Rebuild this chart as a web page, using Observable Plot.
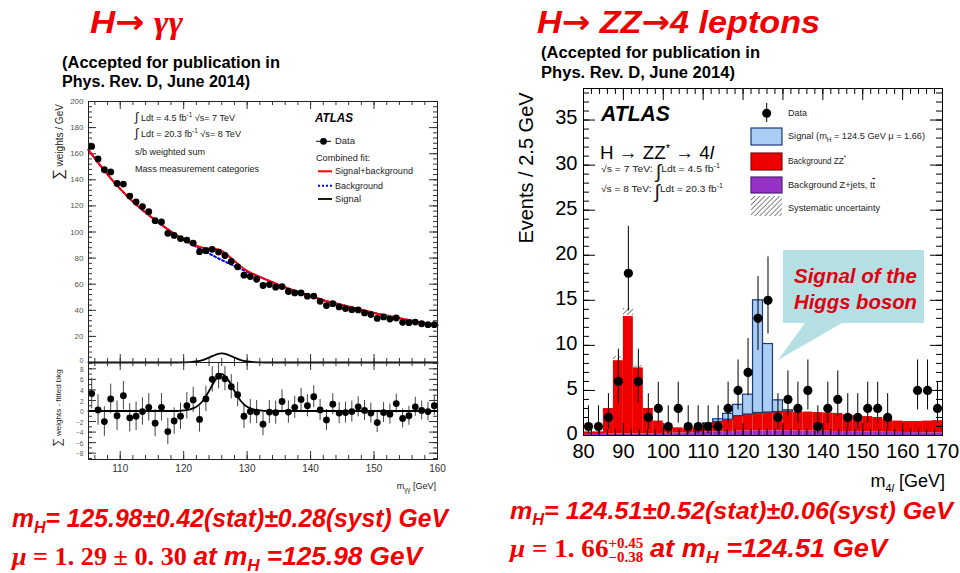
<!DOCTYPE html>
<html><head><meta charset="utf-8">
<script src="https://cdn.jsdelivr.net/npm/d3@7"></script>
<script src="https://cdn.jsdelivr.net/npm/@observablehq/plot@0.6"></script>
<style>
body{margin:0;background:#fff;}
#page{position:relative;width:960px;height:573px;overflow:hidden;background:#fff;font-family:'Liberation Sans',Arial,Helvetica,sans-serif;}
.abs{position:absolute;white-space:nowrap;line-height:1;}
.plotbox{position:absolute;}
.plotbox svg{overflow:visible;}
sup,sub{line-height:0;}
</style></head>
<body><div id="page"></div>
<script>
// ---------------- H -> gamma gamma (left) ----------------
const ggMass = d3.range(105.5, 160, 1);
const ggWeights = [165.6,156,147.7,146,137.2,136.7,127.5,123,119.5,115.6,108.7,107.7,99,97.4,95,93.8,91.5,84.9,85.7,86.7,84.6,82,77.4,73.3,
  66.9,65.9,63.8,59,59.7,57.7,58.2,54.4,53.3,53.3,50.8,50.9,46.9,43.6,45.1,42.6,41.3,40.5,40.3,38,36.7,33.8,34.9,33.3,34.1,30.8,30.5,31,29.7,29,29];
const ggResid = [3.3,0.2,-2.0,2.3,-0.9,2.9,-1.3,-1.0,-0.1,0.7,
  -2.3,0.7,-3.9,-1.9,-1.0,1.0,2.1,-1.6,2.3,6.0,
  6.6,6.1,4.6,3.1,-1.0,-0.1,-0.2,-2.5,-0.2,-0.3,
  1.8,-0.2,0.7,2.2,1.0,2.7,0.2,-1.7,1.3,-0.4,
  -0.3,-0.1,0.8,0.1,-0.4,-2.2,-0.3,-0.6,1.4,-1.4,
  -0.9,0.8,0.1,-0.1,1.0];
const ggResidErr = [2.9,2.9,2.8,2.8,2.8,2.7,2.7,2.7,2.6,2.6, 2.6,2.6,2.5,2.5,2.5,2.5,2.4,2.4,2.4,2.4,
  2.4,2.3,2.3,2.3,2.3,2.3,2.2,2.2,2.2,2.2, 2.2,2.1,2.1,2.1,2.1,2.1,2.0,2.0,2.0,2.0,
  2.0,2.0,1.9,1.9,1.9,1.9,1.9,1.9,1.8,1.8, 1.8,1.8,1.8,1.8,1.8];
const ggBkgMass = [105,107.5,110,112.5,115,117.5,120,122,124,126,128,130,132.5,135,137.5,140,142.5,145,147.5,150,152.5,155,157.5,160];
const ggBkgFit  = [163,147,133,121,111,102,94,88.6,83.5,78.5,74,69.5,64.5,59.5,55,51,47,44,41,38,35.5,33,30.5,28.5];
const ggSbMass = [105,107.5,110,112.5,115,117.5,120,121,122,123,124,125,126,127,128,129,130,131,132.5,135,137.5,140,142.5,145,147.5,150,152.5,155,157.5,160];
const ggSbFit  = [163,147,133,121,111,102,94.1,91.5,89.5,88,87.3,86.9,85.5,81.9,77.8,73.6,70.3,67.8,64.6,59.5,55,51,47,44,41,38,35.5,33,30.5,28.5];
const ggSigMass = [105,119,120,121,122,123,124,125,126,127,128,129,130,131,132,133,160];
const ggSigFit  = [0,0,0.1,0.3,0.8,1.9,3.8,5.9,7.0,5.9,3.8,1.9,0.8,0.3,0.1,0,0];
const ggXTicks = [110,120,130,140,150,160];
const ggYTicksTop = d3.range(0,201,20);
const ggYTicksBot = [-8,-6,-4,-2,0,2,4,6,8];

// ---------------- H -> ZZ* -> 4l (right) ----------------
const zzBinLow = d3.range(80, 170, 2.5);
const zzBinWidth = 2.5;
const zzZjets = [0.10,0.12,0.15,0.18,0.20,0.20,0.20,0.22,0.25,0.28, 0.30,0.33,0.38,0.42,0.45,0.48,0.50,0.52,0.52,0.52,
  0.52,0.50,0.50,0.48,0.47,0.45,0.43,0.42,0.40,0.38, 0.36,0.35,0.33,0.32,0.30,0.30];
const zzZZ = [0.30,0.28,2.85,8.12,13.0,7.30,2.80,1.38,0.60,0.57, 0.45,0.52,0.92,1.08,1.30,1.67,1.83,1.98,2.03,2.08,
  2.11,2.10,2.10,2.07,2.03,2.00,1.87,1.78,1.70,1.62, 1.44,1.25,1.22,1.23,1.30,1.35];
const zzSignal = [0,0,0,0,0,0,0,0,0,0, 0,0,0.05,0.30,0.65,1.25,2.20,12.5,7.60,1.30,
  0.17,0,0,0,0,0,0,0,0,0, 0,0,0,0,0,0];
const zzData = [1,1,2,6,18,6,2,3,1,3, 1,1,1,1,3,5,7,13,15,2, 4,3,5,1,3,4,2,2,3,3, 2,0,0,5,5,3];
const poissonLo = {1:0.17,2:0.71,3:1.37,4:2.09,5:2.84,6:3.62,7:4.42,13:9.44,15:11.26,18:13.8};
const poissonHi = {1:3.30,2:4.64,3:5.92,4:7.16,5:8.38,6:9.58,7:10.77,13:17.63,15:19.82,18:23.2};
const zzSystBin = [87.5, 90, 92.5];
const zzSystLo = [8.42, 13.3, 7.5];
const zzSystHi = [8.75, 14.1, 7.75];
const zzXTicks = d3.range(80,171,10);
const zzYTicks = d3.range(0,36,5);

// ---------------- helpers ----------------
const SANS = "'Liberation Sans',Arial,Helvetica,sans-serif";
const RED = "#f00000";
const page = document.getElementById("page");

function txt(html, x, y, o = {}) {
  const d = document.createElement("div");
  d.className = "abs";
  d.innerHTML = html;
  Object.assign(d.style, {fontSize:(o.size||10)+"px", fontWeight:o.weight||"normal", fontStyle:o.style||"normal",
    color:o.color||"#000", fontFamily:o.family||SANS, left:"0px", top:"0px"});
  page.appendChild(d);
  const r = d.getBoundingClientRect();
  const sx = o.w ? o.w / r.width : 1;
  if (o.rotate) {
    d.style.transformOrigin = "0 0";
    d.style.left = x + "px"; d.style.top = y + "px";
    d.style.transform = `rotate(-90deg) translate(-50%,-50%)`;
    return d;
  }
  const ww = r.width * sx;
  const left = o.anchor === "middle" ? x - ww/2 : o.anchor === "end" ? x - ww : x;
  d.style.left = left + "px";
  d.style.top = (y - r.height/2) + "px";
  d.style.transformOrigin = "0 50%";
  d.style.transform = `scaleX(${sx})`;
  return d;
}

function place(svg, left, top) {
  const box = document.createElement("div");
  box.className = "plotbox";
  box.style.left = left + "px"; box.style.top = top + "px";
  box.appendChild(svg);
  page.appendChild(box);
}

function frameTicks({xMaj, xMin, yMaj, yMin, fw, fh, maj, min, stroke="#000", sw=1}) {
  const m = [];
  for (const [vals, len] of [[xMaj, maj], [xMin, min]]) {
    m.push(Plot.ruleX(vals, {insetTop: fh - len, stroke, strokeWidth: sw}));
    m.push(Plot.ruleX(vals, {insetBottom: fh - len, stroke, strokeWidth: sw}));
  }
  for (const [vals, len] of [[yMaj, maj], [yMin, min]]) {
    m.push(Plot.ruleY(vals, {insetRight: fw - len, stroke, strokeWidth: sw}));
    m.push(Plot.ruleY(vals, {insetLeft: fw - len, stroke, strokeWidth: sw}));
  }
  return m;
}

// ---------------- left plot tables ----------------
const ggPts = ggMass.map((m, i) => ({m, v: ggWeights[i]}));
const ggRes = ggMass.map((m, i) => ({m, v: ggResid[i], e: ggResidErr[i]}));
const ggBkg = ggBkgMass.map((m, i) => ({m, v: ggBkgFit[i]}));
const ggSb = ggSbMass.map((m, i) => ({m, v: ggSbFit[i]}));
const ggSig = ggSigMass.map((m, i) => ({m, v: ggSigFit[i]}));

const LW = 410, LML = 48, LMR = 13;
const LFW = LW - LML - LMR;
const baseStyle = {background:"transparent", fontFamily:SANS, overflow:"visible"};

// top panel: frame y 101 -> 362
const leftTop = Plot.plot({
  width: LW, height: 272, marginLeft: LML, marginRight: LMR, marginTop: 11, marginBottom: 0,
  x: {domain:[105,160], axis:null}, y: {domain:[0,200], axis:null},
  style: baseStyle,
  marks: [
    ...frameTicks({xMaj: ggXTicks, xMin: d3.range(106,160,2), yMaj: ggYTicksTop, yMin: d3.range(0,200,4),
      fw: LFW, fh: 261, maj: 8, min: 4, stroke:"#333"}),
    Plot.axisY({ticks: ggYTicksTop.filter(d => d > 0), tickSize: 0, tickPadding: 5, fontSize: 8, fill:"#555", label: null}),
    Plot.axisY({ticks: [0], tickSize: 0, tickPadding: 5, fontSize: 7, dy: -2, fill:"#555", label: null}),
    Plot.line(ggBkg, {x:"m", y:"v", stroke:"#0000ff", strokeWidth:2, strokeDasharray:"2,2.5", curve:"monotone-x"}),
    Plot.line(ggSb, {x:"m", y:"v", stroke:"#ff0000", strokeWidth:2, curve:"monotone-x"}),
    Plot.line(ggSig, {x:"m", y:"v", stroke:"#000", strokeWidth:1.8, curve:"monotone-x"}),
    Plot.dot(ggPts, {x:"m", y:"v", r:3.4, fill:"#000"}),
    Plot.frame({stroke:"#222"})
  ]
});
place(leftTop, 40, 90);

// bottom panel: frame y 362 -> 459
const leftBot = Plot.plot({
  width: LW, height: 130, marginLeft: LML, marginRight: LMR, marginTop: 0, marginBottom: 33,
  x: {domain:[105,160]}, y: {domain:[-9.2,9.2]},
  style: baseStyle,
  marks: [
    ...frameTicks({xMaj: ggXTicks, xMin: d3.range(106,160,2), yMaj: ggYTicksBot, yMin: d3.range(-9,10,1),
      fw: LFW, fh: 97, maj: 8, min: 4, stroke:"#333"}),
    Plot.axisY({ticks: ggYTicksBot, tickSize: 0, tickPadding: 5, fontSize: 6.5, dy: 1, fill:"#555", label: null}),
    Plot.axisX({ticks: ggXTicks, tickSize: 0, tickPadding: 5, fontSize: 10, fill:"#333", label: null}),
    Plot.ruleX(ggRes, {x:"m", y1: d => d.v - d.e, y2: d => d.v + d.e, stroke:"#444", strokeWidth:1}),
    Plot.line(ggSig, {x:"m", y:"v", stroke:"#000", strokeWidth:1.8, curve:"monotone-x"}),
    Plot.dot(ggRes, {x:"m", y:"v", r:3.4, fill:"#000"}),
    Plot.frame({stroke:"#222"})
  ]
});
place(leftBot, 40, 362);

// ---------------- right plot ----------------
const zzRows = zzBinLow.map((lo, i) => {
  const p = zzZjets[i], z = zzZZ[i], s = zzSignal[i];
  return {lo, hi: lo + zzBinWidth, c: lo + zzBinWidth/2, p0: 0, p1: p, z1: p + z, s1: p + z + s, s: s, n: zzData[i]};
});
const zzSigRows = zzRows.filter(d => d.s > 0);
const zzPts = zzRows.filter(d => d.n > 0).map(d => ({c: d.c, n: d.n, lo: poissonLo[d.n], hi: poissonHi[d.n]}));
const zzSyst = zzSystBin.map((lo, i) => ({lo, hi: lo + zzBinWidth, y1: zzSystLo[i], y2: zzSystHi[i]}));

const RW = 450, RML = 73, RMR = 18, RMT = 8, RMB = 65, RH = 420;
const right = Plot.plot({
  width: RW, height: RH, marginLeft: RML, marginRight: RMR, marginTop: RMT, marginBottom: RMB,
  x: {domain:[80,170]}, y: {domain:[0,38.5]},
  style: {...baseStyle, fontFamily: SANS},
  marks: [
    Plot.rectY(zzRows, {x1:"lo", x2:"hi", y1:"p0", y2:"p1", fill:"#9632c8"}),
    Plot.rectY(zzRows, {x1:"lo", x2:"hi", y1:"p1", y2:"z1", fill:"#ee0000"}),
    Plot.rectY(zzSigRows, {x1:"lo", x2:"hi", y1:"z1", y2:"s1", fill:"#a9cdf3", stroke:"#1c3a78", strokeWidth:1.2}),
    Plot.rectY(zzSyst, {x1:"lo", x2:"hi", y1:"y1", y2:"y2", fill:"url(#zzHatch)"}),
    ...frameTicks({xMaj: zzXTicks, xMin: d3.range(82,170,2), yMaj: zzYTicks, yMin: d3.range(1,39,1),
      fw: RW - RML - RMR, fh: RH - RMT - RMB, maj: 12, min: 6, stroke:"#000"}),
    Plot.axisX({ticks: zzXTicks, tickSize: 0, tickPadding: 8, fontSize: 20, fill:"#000", label: null}),
    Plot.axisY({ticks: zzYTicks, tickSize: 0, tickPadding: 6, fontSize: 20, dy: -2, fill:"#000", label: null}),
    Plot.ruleX(zzPts, {x:"c", y1:"lo", y2:"hi", stroke:"#000", strokeWidth:1}),
    Plot.dot(zzPts, {x:"c", y:"n", r:4.6, fill:"#000"}),
    Plot.frame({stroke:"#000"})
  ]
});
const defs = document.createElementNS("http://www.w3.org/2000/svg", "defs");
defs.innerHTML = `<pattern id="zzHatch" patternUnits="userSpaceOnUse" width="3.5" height="3.5" patternTransform="rotate(45)"><line x1="0" y1="0" x2="0" y2="3.5" stroke="#222" stroke-width="1.1"/></pattern>`;
right.insertBefore(defs, right.firstChild);
place(right, 510, 80);

// ---------------- overlay shapes (legends, callout) ----------------
const NS = "http://www.w3.org/2000/svg";
const ov = document.createElementNS(NS, "svg");
ov.setAttribute("width", 960); ov.setAttribute("height", 573);
ov.style.position = "absolute"; ov.style.left = "0"; ov.style.top = "0";
ov.innerHTML = `
 <defs><pattern id="legHatch" patternUnits="userSpaceOnUse" width="3.5" height="3.5" patternTransform="rotate(45)"><line x1="0" y1="0" x2="0" y2="3.5" stroke="#222" stroke-width="1.1"/></pattern></defs>
 <line x1="316" y1="141.3" x2="331" y2="141.3" stroke="#000" stroke-width="1"/>
 <circle cx="323.5" cy="141.3" r="3.4" fill="#000"/>
 <line x1="318" y1="171.3" x2="332" y2="171.3" stroke="#ff0000" stroke-width="2"/>
 <line x1="318" y1="185.7" x2="332" y2="185.7" stroke="#0000ff" stroke-width="2" stroke-dasharray="2,2"/>
 <line x1="318" y1="199" x2="332" y2="199" stroke="#000" stroke-width="1.8"/>
 <line x1="766.7" y1="103" x2="766.7" y2="122" stroke="#000" stroke-width="1"/>
 <circle cx="766.7" cy="113.3" r="4.5" fill="#000"/>
 <rect x="751" y="128" width="31" height="17" fill="#a9cdf3" stroke="#1c3a78" stroke-width="1.2"/>
 <rect x="751" y="153" width="31" height="17" fill="#ee0000" stroke="#7a1010" stroke-width="1.2"/>
 <rect x="751" y="177" width="31" height="16" fill="#9632c8" stroke="#4a2070" stroke-width="1.2"/>
 <rect x="751" y="196" width="31" height="20" fill="url(#legHatch)"/>
 <path d="M783,250 H924 V323 H842 L778,360 L805,323 H783 Z" fill="#b6dfe3"/>
`;
page.appendChild(ov);

// ---------------- texts ----------------
// titles
txt(`H<span style="font-family:'DejaVu Sans';font-weight:bold">→</span> <span style="font-family:'Liberation Serif',serif">γγ</span>`, 90, 22, {size:32, weight:"bold", style:"italic", color:RED, w:93});
txt(`H<span style="font-family:'DejaVu Sans';font-weight:bold">→</span> ZZ<span style="font-family:'DejaVu Sans';font-weight:bold">→</span>4 leptons`, 537, 22, {size:32, weight:"bold", style:"italic", color:RED, w:283});
txt("(Accepted for publication in", 62, 63, {size:16, weight:"bold", w:218});
txt("Phys. Rev. D, June 2014)", 62, 82, {size:16, weight:"bold", w:188});
txt("(Accepted for publication in", 541, 53, {size:16, weight:"bold", w:219});
txt("Phys. Rev. D, June 2014)", 541, 73, {size:16, weight:"bold", w:194});

// left plot annotations
txt(`<span style="font-size:1.4em">∫</span> Ldt = 4.5 fb<sup style="font-size:0.7em">-1</sup> √s= 7 TeV`, 135, 117, {size:9, w:100, color:"#222"});
txt(`<span style="font-size:1.4em">∫</span> Ldt = 20.3 fb<sup style="font-size:0.7em">-1</sup> √s= 8 TeV`, 135, 133, {size:9, w:106, color:"#222"});
txt("s/b weighted sum", 135, 152, {size:9, w:70, color:"#222"});
txt("Mass measurement categories", 135, 169, {size:9, w:124, color:"#222"});
txt("ATLAS", 315, 118, {size:12, weight:"bold", style:"italic", w:38});
txt("Data", 335, 141.5, {size:9, w:20, color:"#222"});
txt("Combined fit:", 316, 158, {size:9, w:54, color:"#222"});
txt("Signal+background", 335, 171.5, {size:9, w:78, color:"#222"});
txt("Background", 335, 186, {size:9, w:48, color:"#222"});
txt("Signal", 335, 199, {size:9, w:26, color:"#222"});
txt(`<span style="font-size:1.5em">∑</span> weights / GeV`, 57, 142, {size:10, color:"#222", rotate:true});
txt(`<span style="font-size:1.5em">∑</span> weights - fitted bkg`, 57, 408, {size:8, color:"#222", rotate:true});
txt(`m<sub style="font-size:0.7em">γγ</sub> [GeV]`, 436, 486, {size:9, anchor:"end", color:"#222"});

// right plot annotations
txt("ATLAS", 601, 114, {size:22, weight:"bold", style:"italic", w:69});
txt(`H → ZZ<sup style="font-size:0.6em">*</sup> → 4<i>l</i>`, 600, 152, {size:19, w:114});
txt(`√s = 7 TeV: <span style="font-size:2em;vertical-align:-0.3em">∫</span>Ldt = 4.5 fb<sup style="font-size:0.7em">-1</sup>`, 601, 171, {size:9.5, w:119, color:"#222"});
txt(`√s = 8 TeV: <span style="font-size:2em;vertical-align:-0.3em">∫</span>Ldt = 20.3 fb<sup style="font-size:0.7em">-1</sup>`, 601, 191, {size:9.5, w:122, color:"#222"});
txt("Data", 788, 113, {size:9.5, w:19, color:"#222"});
txt(`Signal (m<sub style="font-size:0.7em">H</sub> = 124.5 GeV μ = 1.66)`, 788, 136, {size:9.5, w:137, color:"#222"});
txt(`Background ZZ<sup style="font-size:0.7em">*</sup>`, 788, 161, {size:9.5, w:58, color:"#222"});
txt(`Background Z+jets, t<span style="text-decoration:overline">t</span>`, 788, 185, {size:9.5, w:87, color:"#222"});
txt("Systematic uncertainty", 788, 208, {size:9.5, w:92, color:"#222"});
txt("Events / 2.5 GeV", 526, 168, {size:20, rotate:true});
txt(`m<sub style="font-size:0.6em">4<i>l</i></sub> [GeV]`, 945, 481, {size:18, anchor:"end"});
txt("Signal of the", 855, 276, {size:20, weight:"bold", style:"italic", color:"#e00010", anchor:"middle", w:123});
txt("Higgs boson", 855, 302, {size:20, weight:"bold", style:"italic", color:"#e00010", anchor:"middle", w:123});

// bottom results
const SERIF = "'Liberation Serif','DejaVu Serif',serif";
txt(`m<sub style="font-size:0.65em">H</sub>= 125.98±0.42(stat)±0.28(syst) GeV`, 12, 518, {size:25, weight:"bold", style:"italic", color:RED, w:436});
txt(`<span style="font-family:${SERIF};font-style:italic;font-weight:bold">μ</span><span style="font-family:${SERIF};font-style:normal;font-weight:bold"> = 1. 29 ± 0. 30 </span>at m<sub style="font-size:0.65em">H</sub> =125.98 GeV`, 12, 556, {size:25, weight:"bold", style:"italic", color:RED, w:410});
txt(`m<sub style="font-size:0.65em">H</sub>= 124.51±0.52(stat)±0.06(syst) GeV`, 510, 511, {size:24, weight:"bold", style:"italic", color:RED, w:443});
txt(`<span style="font-family:${SERIF};font-style:italic;font-weight:bold">μ</span><span style="font-family:${SERIF};font-style:normal;font-weight:bold"> = 1. 66<span style="display:inline-block;vertical-align:middle;font-size:0.55em;line-height:1.05;text-align:left"><span style="display:block">+0.45</span><span style="display:block">−0.38</span></span> </span>at m<sub style="font-size:0.65em">H</sub> =124.51 GeV`, 510, 551, {size:25, weight:"bold", style:"italic", color:RED, w:377});
</script>
</body></html>
